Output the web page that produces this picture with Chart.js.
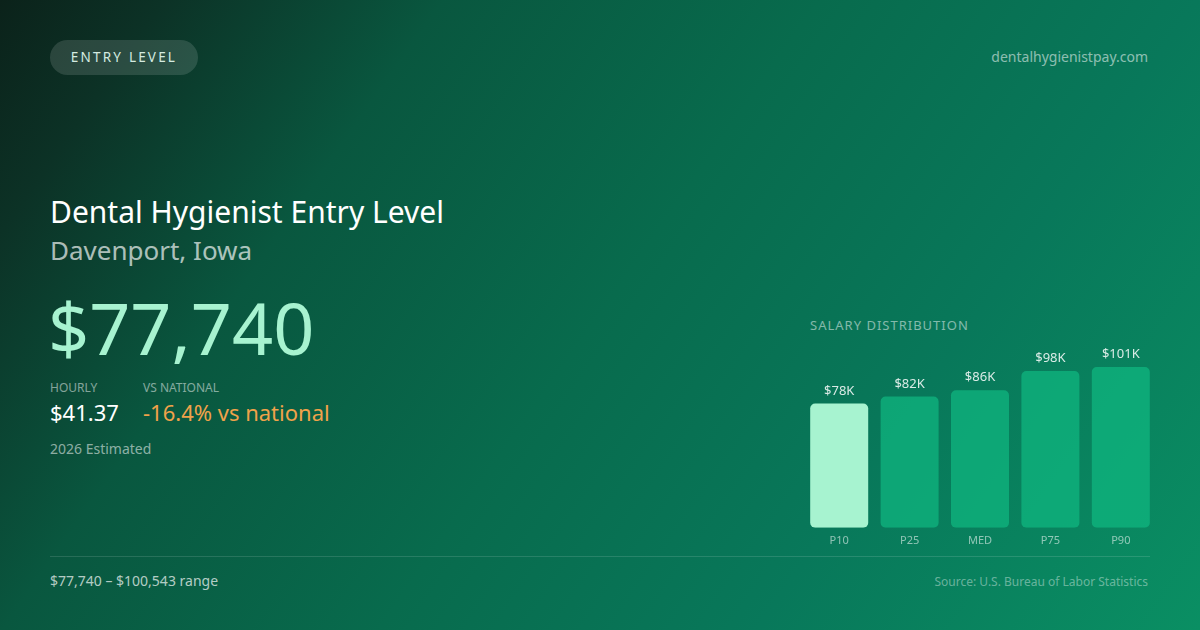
<!DOCTYPE html>
<html>
<head>
<meta charset="utf-8">
<script src="https://cdn.jsdelivr.net/npm/chart.js@4"></script>
<style>
  html,body{margin:0;padding:0;}
  body{width:1200px;height:630px;overflow:hidden;position:relative;font-family:"Noto Sans","Open Sans",sans-serif;
    background:linear-gradient(125deg,#0b221a 0%,#0c3226 10%,#09573f 27%,#086b4d 50%,#08785a 73%,#0a8f63 100%);}
  .abs{position:absolute;white-space:nowrap;}
  .pill{left:50px;top:40px;width:148px;height:35px;border-radius:18px;background:rgba(255,255,255,0.13);
    color:#d4ebe0;font-size:13.5px;letter-spacing:2.2px;line-height:35px;text-align:center;}
  .site{right:52px;top:47px;font-size:14px;color:rgba(255,255,255,0.55);}
  .title{left:50px;top:191px;font-size:30px;color:#ffffff;}
  .sub{left:50px;top:232px;font-size:26px;color:rgba(255,255,255,0.68);}
  .big{left:48px;top:282px;font-size:72px;color:#a7f3d0;line-height:90px;}
  .lbl{top:379px;font-size:12px;color:rgba(255,255,255,0.5);}
  .val{top:397px;font-size:22px;line-height:30px;}
  .est{left:50px;top:439px;font-size:14px;color:rgba(255,255,255,0.55);}
  .hr{left:50px;top:556px;width:1100px;height:1px;background:rgba(255,255,255,0.13);}
  .range{left:50px;top:571px;font-size:14px;color:rgba(255,255,255,0.7);}
  .src{right:52px;top:573px;font-size:12px;color:rgba(255,255,255,0.4);}
  .dist{left:810px;top:316px;font-size:13px;letter-spacing:1px;color:rgba(255,255,255,0.5);}
  #wrap{position:absolute;left:804px;top:339px;width:352px;height:214px;}
</style>
</head>
<body>
<div class="abs pill">ENTRY LEVEL</div>
<div class="abs site">dentalhygienistpay.com</div>
<div class="abs title">Dental Hygienist Entry Level</div>
<div class="abs sub">Davenport, Iowa</div>
<div class="abs big">$77,740</div>
<div class="abs lbl" style="left:50px">HOURLY</div>
<div class="abs lbl" style="left:143px">VS NATIONAL</div>
<div class="abs val" style="left:50px;color:#ffffff">$41.37</div>
<div class="abs val" style="left:143px;color:#f0a24a">-16.4% vs national</div>
<div class="abs est">2026 Estimated</div>
<div class="abs hr"></div>
<div class="abs range">$77,740 – $100,543 range</div>
<div class="abs src">Source: U.S. Bureau of Labor Statistics</div>
<div class="abs dist">SALARY DISTRIBUTION</div>
<div id="wrap"><canvas id="c"></canvas></div>
<script>
const categories = ["P10", "P25", "MED", "P75", "P90"];
const salaries = [77740, 82100, 86000, 98000, 100543];
const valueLabels = ["$78K", "$82K", "$86K", "$98K", "$101K"];
const barColors = ["#a7f3d0", "rgba(16,185,129,0.7)", "rgba(16,185,129,0.7)", "rgba(16,185,129,0.7)", "rgba(16,185,129,0.7)"];

const labelPlugin = {
  id: "valueLabels",
  afterDatasetsDraw(chart) {
    const ctx = chart.ctx;
    const meta = chart.getDatasetMeta(0);
    ctx.save();
    ctx.font = '13px "Noto Sans", "Open Sans", sans-serif';
    ctx.fillStyle = "rgba(255,255,255,0.85)";
    ctx.textAlign = "center";
    ctx.textBaseline = "bottom";
    meta.data.forEach((bar, i) => {
      ctx.fillText(valueLabels[i], bar.x, bar.y - 6);
    });
    ctx.restore();
  }
};

new Chart(document.getElementById("c"), {
  type: "bar",
  data: {
    labels: categories,
    datasets: [{
      data: salaries,
      backgroundColor: barColors,
      borderRadius: 5,
      borderSkipped: false,
      categoryPercentage: 1,
      barPercentage: 0.824
    }]
  },
  options: {
    responsive: true,
    maintainAspectRatio: false,
    animation: false,
    layout: { padding: 0 },
    plugins: { legend: { display: false }, tooltip: { enabled: false } },
    scales: {
      y: { display: false, min: 0, max: 118000 },
      x: {
        grid: { display: false, drawTicks: false },
        border: { display: false },
        ticks: { color: "rgba(255,255,255,0.55)", font: { size: 11, family: '"Noto Sans", "Open Sans", sans-serif' }, padding: 6 }
      }
    }
  },
  plugins: [labelPlugin]
});
</script>
</body>
</html>
